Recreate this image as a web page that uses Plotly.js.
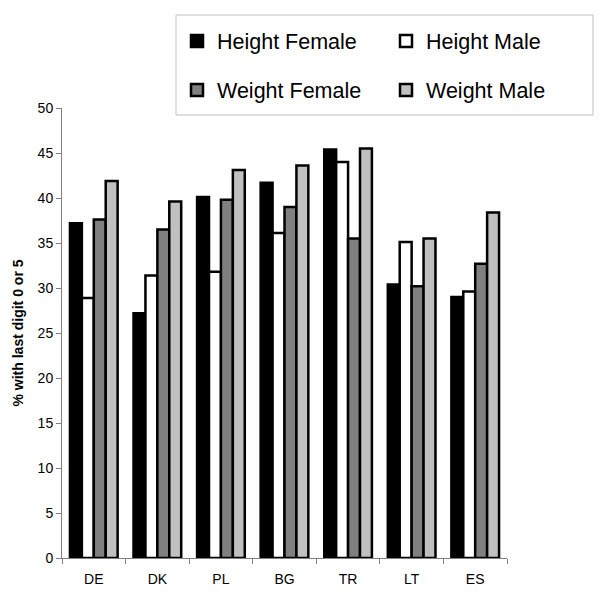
<!DOCTYPE html>
<html><head><meta charset="utf-8">
<script src="https://cdn.plot.ly/plotly-3.0.1.min.js"></script>
<style>body{margin:0;background:#fff}#chart{width:600px;height:610px}</style>
</head><body><div id="chart"></div>
<script>
const countries = ["DE","DK","PL","BG","TR","LT","ES"];
const heightFemale = [37.2, 27.2, 40.1, 41.7, 45.4, 30.4, 29.0];
const heightMale   = [28.9, 31.4, 31.8, 36.1, 44.0, 35.1, 29.6];
const weightFemale = [37.6, 36.5, 39.8, 39.0, 35.5, 30.2, 32.7];
const weightMale   = [41.9, 39.6, 43.1, 43.6, 45.5, 35.5, 38.4];
const seriesNames = ["Height Female","Height Male","Weight Female","Weight Male"];
const colors = ["#000000","#ffffff","#808080","#c0c0c0"];
const legendIds = ["legend","legend2","legend3","legend4"];
const vals = [heightFemale, heightMale, weightFemale, weightMale];

const traces = vals.map((v,i)=>({
  type:"bar", x:countries, y:v, name:seriesNames[i], legend:legendIds[i],
  marker:{color:colors[i], line:{color:"#000", width:2.5}}
}));

const W=600, H=610;
const L=62, R=507, T=108, B=558;
const pw=R-L, ph=B-T;
const px = p => (p-L)/pw;
const py = p => (B-p)/ph;
const cx = p => p/W;
const cy = p => 1 - p/H;

// legend entry anchor positions (pixels): [left, centre y]
const legPos = [[177,41],[386,41],[177,90],[386,90]];

const layout = {
  width:W, height:H,
  margin:{l:L, r:W-R, t:T, b:H-B, pad:0, autoexpand:false},
  paper_bgcolor:"#fff", plot_bgcolor:"#fff",
  font:{family:"Liberation Sans, Arial, sans-serif", color:"#000"},
  barmode:"group", bargap:0.25, bargroupgap:0,
  showlegend:true,
  xaxis:{type:"category", showline:true, linecolor:"#808080", linewidth:1,
    ticks:"outside", tickson:"boundaries", ticklen:5, tickcolor:"#808080",
    tickfont:{size:14}, ticklabelstandoff:8, showgrid:false, zeroline:false, fixedrange:true},
  yaxis:{range:[0,50], dtick:5, showline:true, linecolor:"#808080", linewidth:1,
    ticks:"outside", ticklen:5, tickcolor:"#808080", tickfont:{size:14},
    showgrid:false, zeroline:false,
    title:{text:"<b>% with last digit 0 or 5</b>", font:{size:14}, standoff:10}},
  shapes:[{type:"rect", xref:"paper", yref:"paper", x0:px(176), x1:px(593), y0:py(115), y1:py(15),
    line:{color:"#c0c0c0", width:1}, fillcolor:"rgba(0,0,0,0)"}]
};
legendIds.forEach((id,i)=>{
  layout[id] = {xref:"container", yref:"container", x:cx(legPos[i][0]), y:cy(legPos[i][1]),
    xanchor:"left", yanchor:"middle", orientation:"h",
    font:{family:"Liberation Sans, Arial, sans-serif", size:21.5, color:"#000"},
    bgcolor:"rgba(0,0,0,0)", borderwidth:0, itemclick:false, itemdoubleclick:false};
});
Plotly.newPlot("chart", traces, layout, {displayModeBar:false, staticPlot:true});
</script></body></html>
